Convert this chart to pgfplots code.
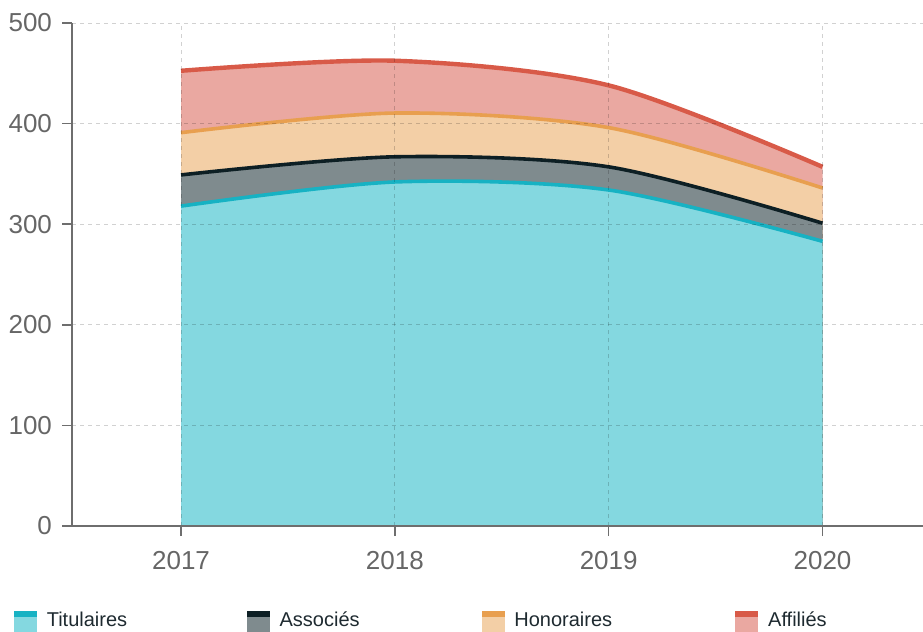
\documentclass[border=0pt]{standalone}
\usepackage{fontspec}
\setmainfont{Liberation Sans}
\usepackage{pgfplots}
\usepackage{pgfplotstable}
\pgfplotsset{compat=1.18}
\definecolor{titfill}{HTML}{84D8E0}
\definecolor{titline}{HTML}{17B2C3}
\definecolor{assfill}{HTML}{7F8B8E}
\definecolor{assline}{HTML}{0D1F24}
\definecolor{honfill}{HTML}{F3CFA6}
\definecolor{honline}{HTML}{E89F4F}
\definecolor{afffill}{HTML}{EAA8A1}
\definecolor{affline}{HTML}{D85A48}
\definecolor{axisgray}{HTML}{6E6E6E}
\definecolor{labelgray}{HTML}{666666}
\definecolor{legendtext}{HTML}{1E2A30}
% cumulative tops of the stacked areas
\pgfplotstableread{
year tit ass hon aff
2017 318 349 391   452.5
2018 342 367 410.5 462.5
2019 334 357 396   438
2020 283 301 336   357
}\data
\begin{document}
\begin{tikzpicture}
\begin{axis}[
  scale only axis, width=425.5pt, height=251.5pt,
  xmin=2016.49, xmax=2020.47, ymin=0, ymax=500,
  axis x line=bottom, axis y line=left,
  axis line style={-, draw=axisgray, line width=0.75pt},
  xtick={2017,2018,2019,2020}, ytick={0,100,200,300,400,500},
  tick style={draw=axisgray, line width=0.75pt},
  tick align=outside, major tick length=5pt,
  xmajorgrids, ymajorgrids,
  major grid style={draw=black, opacity=0.18, dash pattern=on 2pt off 2pt, line width=0.5pt},
  ticklabel style={font=\fontsize{13}{15}\selectfont, text=labelgray},
  xticklabel style={yshift=-4pt},
  yticklabel style={xshift=-1.5pt},
  /pgf/number format/assume math mode=true,
  /pgf/number format/1000 sep={},
  axis on top,
  legend columns=4,
  legend style={at={(axis description cs:0,0)}, anchor=west, xshift=-29pt, yshift=-47.5pt,
    draw=none, fill=none, inner sep=0pt, outer sep=0pt,
    font=\fontsize{10}{12}\selectfont, text=legendtext,
    nodes={inner sep=0pt}, column sep=0pt},
  legend cell align=left,
]
\addplot[smooth, fill=afffill, draw=none, forget plot] table[x=year, y=aff] {\data} \closedcycle;
\addplot[smooth, fill=honfill, draw=none, forget plot] table[x=year, y=hon] {\data} \closedcycle;
\addplot[smooth, fill=assfill, draw=none, forget plot] table[x=year, y=ass] {\data} \closedcycle;
\addplot[smooth, fill=titfill, draw=none, forget plot] table[x=year, y=tit] {\data} \closedcycle;
\addplot[smooth, draw=titline, line width=1.8pt, forget plot] table[x=year, y=tit] {\data};
\addplot[smooth, draw=assline, line width=1.8pt, forget plot] table[x=year, y=ass] {\data};
\addplot[smooth, draw=honline, line width=1.8pt, forget plot] table[x=year, y=hon] {\data};
\addplot[smooth, draw=affline, line width=2.2pt, forget plot] table[x=year, y=aff] {\data};
\addlegendimage{legend image code/.code={\fill[titfill] (0pt,-5pt) rectangle (11pt,5pt); \fill[titline] (0pt,2.5pt) rectangle (11pt,5pt);}}
\addlegendentry{\hspace{5pt}\makebox[100pt][l]{Titulaires}}
\addlegendimage{legend image code/.code={\fill[assfill] (0pt,-5pt) rectangle (11pt,5pt); \fill[assline] (0pt,2.5pt) rectangle (11pt,5pt);}}
\addlegendentry{\hspace{5pt}\makebox[101pt][l]{Associés}}
\addlegendimage{legend image code/.code={\fill[honfill] (0pt,-5pt) rectangle (11pt,5pt); \fill[honline] (0pt,2.5pt) rectangle (11pt,5pt);}}
\addlegendentry{\hspace{5pt}\makebox[110.5pt][l]{Honoraires}}
\addlegendimage{legend image code/.code={\fill[afffill] (0pt,-5pt) rectangle (11pt,5pt); \fill[affline] (0pt,2.5pt) rectangle (11pt,5pt);}}
\addlegendentry{\hspace{5pt}Affiliés}
\coordinate (bl) at (rel axis cs:0,0);
\coordinate (tr) at (rel axis cs:1,1);
\end{axis}
\pgfresetboundingbox
\path ([shift={(-36pt,-52.5pt)}]bl) rectangle ([shift={(0pt,11.5pt)}]tr);
\end{tikzpicture}
\end{document}
